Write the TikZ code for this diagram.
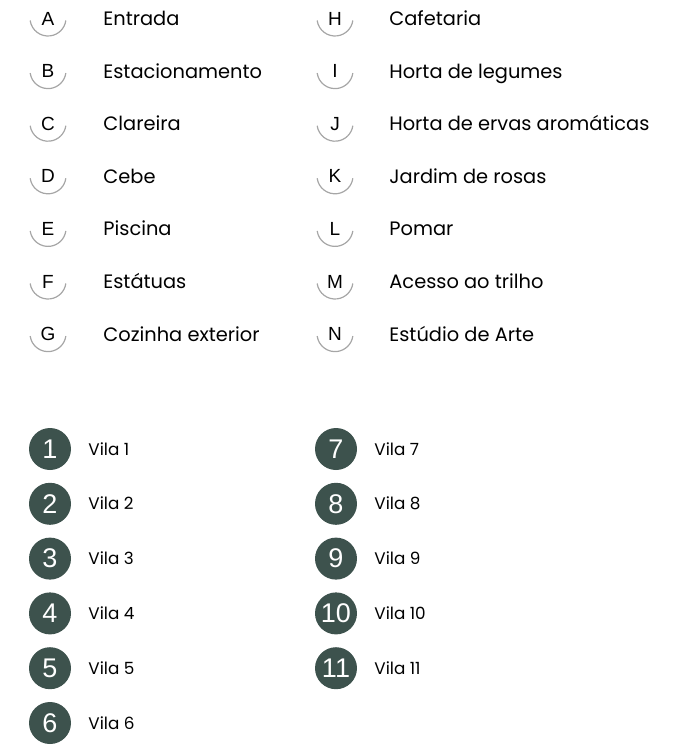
\documentclass[tikz,border=0pt]{standalone}
\usepackage{fontspec}
\setmainfont{Poppins}
\newfontfamily\numfont{Liberation Sans}
\definecolor{vilagreen}{HTML}{3D524D}
\tikzset{
  letterarc/.style={draw=gray!70, line width=0.6pt},
  lettertxt/.style={font=\numfont\fontsize{9.5}{10}\selectfont, inner sep=0pt, anchor=base},
  itemtxt/.style={font=\fontsize{9.7}{11}\selectfont, anchor=base west, inner sep=0pt},
  vilabadge/.style={circle, fill=vilagreen, minimum size=21pt, inner sep=0pt,
    text=white, font=\numfont\fontsize{13.5}{14}\selectfont},
  vilatxt/.style={font=\fontsize{8.4}{10}\selectfont, anchor=base west, inner sep=0pt}
}
\begin{document}
\begin{tikzpicture}[x=0.5pt, y=-0.5pt]
  \useasboundingbox (0,0) rectangle (680,745);

  % letter legend
  \foreach \l/\t [count=\i from 0] in {A/Entrada, B/Estacionamento, C/Clareira, D/Cebe,
      E/Piscina, F/Estátuas, G/Cozinha exterior} {
    \node[lettertxt] (l\l) at (48,{25+52.6*\i}) {\l};
    \draw[letterarc] ([shift={(172:18)}]48,{18+52.6*\i}) arc (172:8:18);
    \node[itemtxt] (t\l) at (103,{25.5+52.6*\i}) {\t};
  }
  \foreach \l/\t [count=\i from 0] in {H/Cafetaria, I/Horta de legumes,
      J/Horta de ervas aromáticas, K/Jardim de rosas, L/Pomar, M/Acesso ao trilho,
      N/Estúdio de Arte} {
    \node[lettertxt] (l\l) at (335,{25+52.6*\i}) {\l};
    \draw[letterarc] ([shift={(172:18)}]335,{18+52.6*\i}) arc (172:8:18);
    \node[itemtxt] (t\l) at (389,{25.5+52.6*\i}) {\t};
  }

  % villas
  \foreach \n [count=\i from 0] in {1,...,6} {
    \node[vilabadge] (v\n) at (50,{449+54.8*\i}) {\n};
    \node[vilatxt] (vt\n) at (88,{455+54.8*\i}) {Vila \n};
  }
  \foreach \n [count=\i from 0] in {7,...,11} {
    \node[vilabadge] (v\n) at (336,{449+54.8*\i}) {\n};
    \node[vilatxt] (vt\n) at (374,{455+54.8*\i}) {Vila \n};
  }
\end{tikzpicture}
\end{document}
